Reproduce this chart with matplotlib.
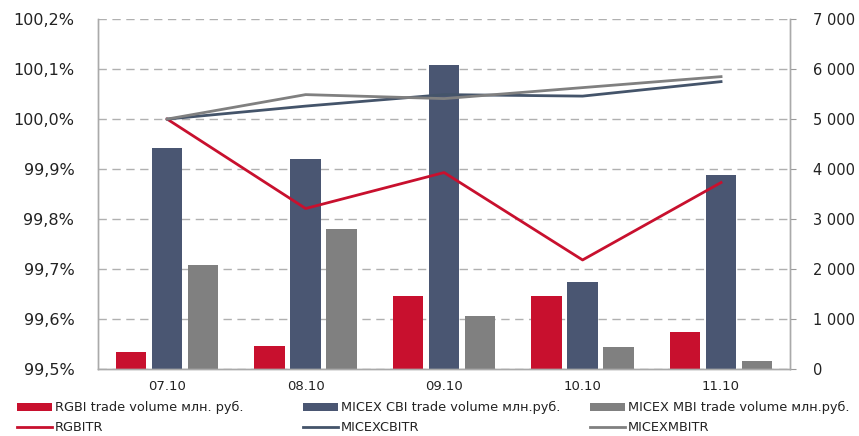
import matplotlib.pyplot as plt
import numpy as np
from matplotlib.ticker import FuncFormatter

plt.rcParams["font.family"] = "DejaVu Sans"

dates = ["07.10", "08.10", "09.10", "10.10", "11.10"]

# trade volumes, mln rub (right axis)
rgbi_vol = [330, 460, 1460, 1460, 730]
cbi_vol = [4420, 4210, 6090, 1730, 3880]
mbi_vol = [2080, 2800, 1050, 430, 160]

# index levels, % of 07.10 (left axis)
rgbitr = [100.0, 99.821, 99.893, 99.718, 99.873]
micexcbitr = [100.0, 100.026, 100.049, 100.046, 100.075]
micexmbitr = [100.0, 100.049, 100.041, 100.063, 100.085]

red = "#C8102E"
blue = "#4A5672"
gray = "#808080"
txt = "#222222"

fig = plt.figure(figsize=(8.59, 4.36), dpi=100)
ax1 = fig.add_axes([0.114, 0.154, 0.806, 0.802])
ax2 = ax1.twinx()

x = np.arange(len(dates))
w = 0.22
off = 0.26
ax2.bar(x - off, rgbi_vol, w, color=red, label="RGBI trade volume млн. руб.", zorder=2)
ax2.bar(x, cbi_vol, w, color=blue, label="MICEX CBI trade volume млн.руб.", zorder=2)
ax2.bar(x + off, mbi_vol, w, color=gray, label="MICEX MBI trade volume млн.руб.", zorder=2)

ax1.plot(x, rgbitr, color=red, lw=2, label="RGBITR")
ax1.plot(x, micexcbitr, color="#44546A", lw=2, label="MICEXCBITR")
ax1.plot(x, micexmbitr, color=gray, lw=2, label="MICEXMBITR")

ax1.set_zorder(ax2.get_zorder() + 1)
ax1.patch.set_visible(False)

ax1.set_xlim(-0.5, 4.5)
ax1.set_ylim(99.5, 100.2)
ax1.set_yticks(np.arange(99.5, 100.21, 0.1))
ax1.yaxis.set_major_formatter(FuncFormatter(lambda v, p: f"{v:.1f}%".replace(".", ",")))
ax2.set_ylim(0, 7000)
ax2.set_yticks(np.arange(0, 7001, 1000))
ax2.yaxis.set_major_formatter(FuncFormatter(lambda v, p: f"{int(v):,}".replace(",", " ")))

ax2.yaxis.grid(True, color="#B0B0B0", linestyle=(0, (6, 4)), lw=1)
ax2.set_axisbelow(True)

ax1.set_xticks(x)
ax1.set_xticklabels(dates)
ax1.tick_params(axis="x", length=0, pad=8, labelsize=9.5, colors=txt)
ax1.tick_params(axis="y", length=0, pad=17, labelsize=11.5, colors=txt)
ax2.tick_params(axis="y", length=4, pad=12, labelsize=10.5, colors=txt, color="#999999")

for a in (ax1, ax2):
    a.spines["top"].set_visible(False)
    for s in ("left", "right", "bottom"):
        a.spines[s].set_color("#AAAAAA")
        a.spines[s].set_linewidth(1)

h1, l1 = ax2.get_legend_handles_labels()
h2, l2 = ax1.get_legend_handles_labels()
col_x = [0.0093, 0.342, 0.676]
for i in range(3):
    fig.legend([h1[i], h2[i]], [l1[i], l2[i]], loc="lower left",
               bbox_to_anchor=(col_x[i], -0.016), frameon=False, fontsize=9.3,
               handlelength=2.7, handleheight=0.55, handletextpad=0.25,
               labelspacing=0.5, labelcolor=txt, borderaxespad=0.3)

fig.savefig("out.png", dpi=100)
